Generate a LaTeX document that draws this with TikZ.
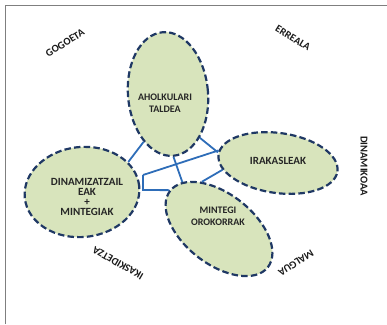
\documentclass[tikz,border=0pt]{standalone}
\usepackage{fontspec}
\setmainfont{Carlito}
\usetikzlibrary{shapes.geometric}
\definecolor{blobfill}{HTML}{D8E4BC}
\definecolor{blobline}{HTML}{1F3864}
\definecolor{linkblue}{HTML}{2E6DB8}
\definecolor{framegray}{HTML}{7F7F7F}
\tikzset{
  blob/.style={ellipse, draw=blobline, fill=blobfill, line width=2.2pt,
    dash pattern=on 6.5pt off 3.2pt, inner sep=0pt},
  blobtext/.style={font=\bfseries\fontsize{10}{12.5}\selectfont, align=center, text=black!85},
  bigblobtext/.style={font=\bfseries\fontsize{11}{10}\selectfont, align=center, text=black!85},
  outer/.style={font=\bfseries\fontsize{10.5}{12}\selectfont, text=black!90},
  link/.style={draw=linkblue, line width=1.8pt},
}
\begin{document}
\begin{tikzpicture}[x=1pt,y=-1pt]
\useasboundingbox (0,0) rectangle (387,324);
% frame
\coordinate (ftl) at (5.5,5.5);
\coordinate (ftr) at (387,5.5);
\coordinate (fbl) at (5.5,324);
\draw[framegray, line width=1.2pt] (fbl) -- (ftl) -- (ftr);
% ellipses
\node[blob, minimum width=80pt, minimum height=124pt, rotate=5] (ahol) at (168,94) {};
\node[blob, minimum width=120pt, minimum height=60pt, rotate=-8] (irak) at (278,163) {};
\node[blob, minimum width=115pt, minimum height=90pt, rotate=6] (dina) at (82,192) {};
\node[blob, minimum width=124pt, minimum height=70pt, rotate=-38] (mint) at (219,229) {};
% connectors
\coordinate (k1) at (143,175);
\coordinate (k2) at (143,190);
\draw[link] (dina.27) -- (ahol.238);
\draw[link] (ahol.301) -- (irak.178);
\draw[link] (k1) -- (irak.176);
\draw[link] (ahol.270) -- (mint.166);
\draw[link] (irak.195) -- (mint.148);
\draw[link] (k1) -- (k2) -- (mint.180);
% labels
\node[blobtext] (tahol) at (165,103) {AHOLKULARI\\TALDEA};
\node[bigblobtext] (tirak) at (278,161) {IRAKASLEAK};
\node[bigblobtext] (tdina) at (87,197) {DINAMIZATZAIL\\EAK\\+\\MINTEGIAK};
\node[blobtext] (tmint) at (218,216) {MINTEGI\\OROKORRAK};
\node[outer, rotate=32] (gogo) at (65,43) {GOGOETA};
\node[outer, rotate=-32] (erre) at (293,38) {ERREALA};
\node[outer, rotate=-90] (dinm) at (364,166) {DINAMIKOAA};
\node[outer, rotate=-148] (malg) at (296,263) {MALGUA};
\node[outer, rotate=150] (ikas) at (118,263) {IKASKIDETZA};
\end{tikzpicture}
\end{document}
